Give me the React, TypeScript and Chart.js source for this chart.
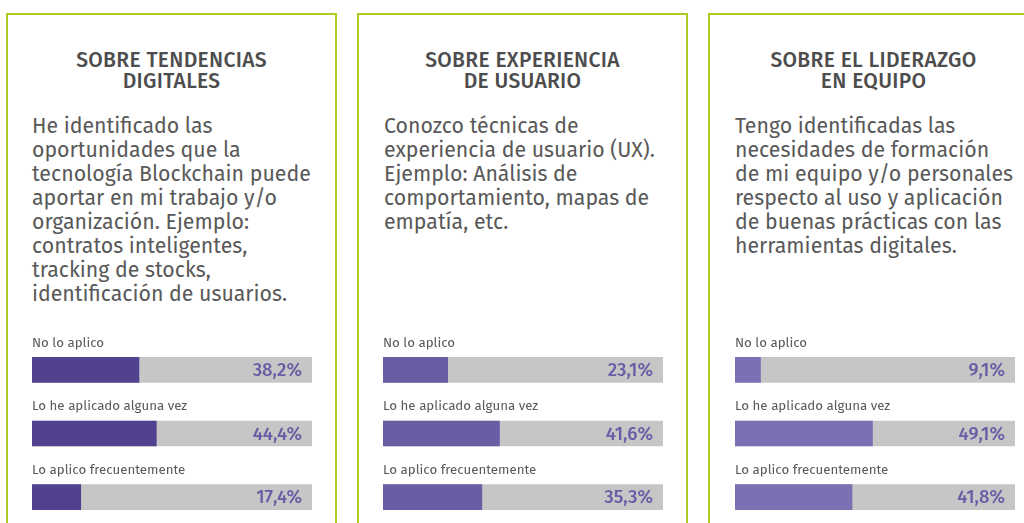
import React, { useEffect, useRef } from "react";
import { Chart, registerables } from "chart.js";

Chart.register(...registerables);

// ---------- DATA ----------
const categories = ["No lo aplico", "Lo he aplicado alguna vez", "Lo aplico frecuentemente"];
const tendenciasValues = [38.2, 44.4, 17.4];
const experienciaValues = [23.1, 41.6, 35.3];
const liderazgoValues = [9.1, 49.1, 41.8];
const trackValues = [100, 100, 100];

const panelTitles = [
  ["SOBRE TENDENCIAS", "DIGITALES"],
  ["SOBRE EXPERIENCIA", "DE USUARIO"],
  ["SOBRE EL LIDERAZGO", "EN EQUIPO"],
];

const panelDescriptions = [
  [
    "He identificado las",
    "oportunidades que la",
    "tecnología Blockchain puede",
    "aportar en mi trabajo y/o",
    "organización. Ejemplo:",
    "contratos inteligentes,",
    "tracking de stocks,",
    "identificación de usuarios.",
  ],
  [
    "Conozco técnicas de",
    "experiencia de usuario (UX).",
    "Ejemplo: Análisis de",
    "comportamiento, mapas de",
    "empatía, etc.",
  ],
  [
    "Tengo identificadas las",
    "necesidades de formación",
    "de mi equipo y/o personales",
    "respecto al uso y aplicación",
    "de buenas prácticas con las",
    "herramientas digitales.",
  ],
];

const panelValues = [tendenciasValues, experienciaValues, liderazgoValues];
const barColors = ["#52418F", "#6A5CA5", "#7A71B4"];

// ---------- STYLE ----------
const FONT = "'Fira Sans', 'Open Sans', sans-serif";
const TEXT_COLOR = "#595959";
const PCT_COLOR = "#6A5CA5";
const TRACK_COLOR = "#C6C6C6";
const BORDER_COLOR = "#AFCB22";

const formatPct = (v: number) => v.toFixed(1).replace(".", ",") + "%";

const labelPlugin = {
  id: "barLabels",
  afterDatasetsDraw(chart: any) {
    const ctx = chart.ctx;
    const meta = chart.getDatasetMeta(0);
    const area = chart.chartArea;
    const vals = chart.data.datasets[0].data as number[];
    ctx.save();
    meta.data.forEach((bar: any, i: number) => {
      ctx.font = `13.3px ${FONT}`;
      ctx.fillStyle = TEXT_COLOR;
      ctx.textAlign = "left";
      ctx.textBaseline = "middle";
      ctx.fillText(String(chart.data.labels[i]), area.left, bar.y - 27);
      ctx.font = `500 18.5px ${FONT}`;
      ctx.fillStyle = PCT_COLOR;
      ctx.textAlign = "right";
      ctx.fillText(formatPct(vals[i]), area.right - 10, bar.y + 1);
    });
    ctx.restore();
  },
};

function BarBlock({ values, color, left }: { values: number[]; color: string; left: number }) {
  const ref = useRef<HTMLCanvasElement>(null);
  useEffect(() => {
    const chart = new Chart(ref.current as HTMLCanvasElement, {
      type: "bar",
      data: {
        labels: categories,
        datasets: [
          { data: values, backgroundColor: color, barThickness: 25, grouped: false, order: 0 } as any,
          { data: trackValues, backgroundColor: TRACK_COLOR, barThickness: 25, grouped: false, order: 1 } as any,
        ],
      },
      options: {
        indexAxis: "y",
        animation: false,
        responsive: false,
        maintainAspectRatio: false,
        events: [],
        layout: { padding: { top: 8, left: 0, right: 0, bottom: 0 } },
        scales: {
          x: { display: false, min: 0, max: 100 },
          y: { display: false },
        },
        plugins: { legend: { display: false }, tooltip: { enabled: false } },
      } as any,
      plugins: [labelPlugin],
    });
    return () => chart.destroy();
  }, []);
  return (
    <canvas
      ref={ref}
      width={280}
      height={199}
      style={{ position: "absolute", left, top: 330, width: 280, height: 199 }}
    />
  );
}

export default function App() {
  const panelLefts = [6, 357, 708];
  const textLefts = [32, 384, 735];
  const barLefts = [32, 383, 735];
  return (
    <div
      style={{
        position: "absolute",
        left: 0,
        top: 0,
        width: 1024,
        height: 523,
        overflow: "hidden",
        background: "#fff",
        fontFamily: FONT,
      }}
    >
      {panelLefts.map((pl, i) => (
        <div
          key={"p" + i}
          style={{
            position: "absolute",
            left: pl,
            top: 13,
            width: 331,
            height: 600,
            boxSizing: "border-box",
            border: `2px solid ${BORDER_COLOR}`,
          }}
        >
          <div
            style={{
              position: "absolute",
              left: 0,
              right: 0,
              top: 35,
              textAlign: "center",
              fontSize: 21,
              lineHeight: "21px",
              fontWeight: 500,
              letterSpacing: "0.3px",
              color: "#4D4D4D",
            }}
          >
            {panelTitles[i].map((t, j) => (
              <div key={j} style={{ whiteSpace: "nowrap" }}>{t}</div>
            ))}
          </div>
        </div>
      ))}
      {textLefts.map((tl, i) => (
        <div
          key={"d" + i}
          style={{
            position: "absolute",
            left: tl,
            top: 114,
            fontSize: 21.3,
            lineHeight: "24px",
            color: TEXT_COLOR,
          }}
        >
          {panelDescriptions[i].map((t, j) => (
            <div key={j} style={{ whiteSpace: "nowrap" }}>{t}</div>
          ))}
        </div>
      ))}
      {barLefts.map((bl, i) => (
        <BarBlock key={"b" + i} values={panelValues[i]} color={barColors[i]} left={bl} />
      ))}
    </div>
  );
}
